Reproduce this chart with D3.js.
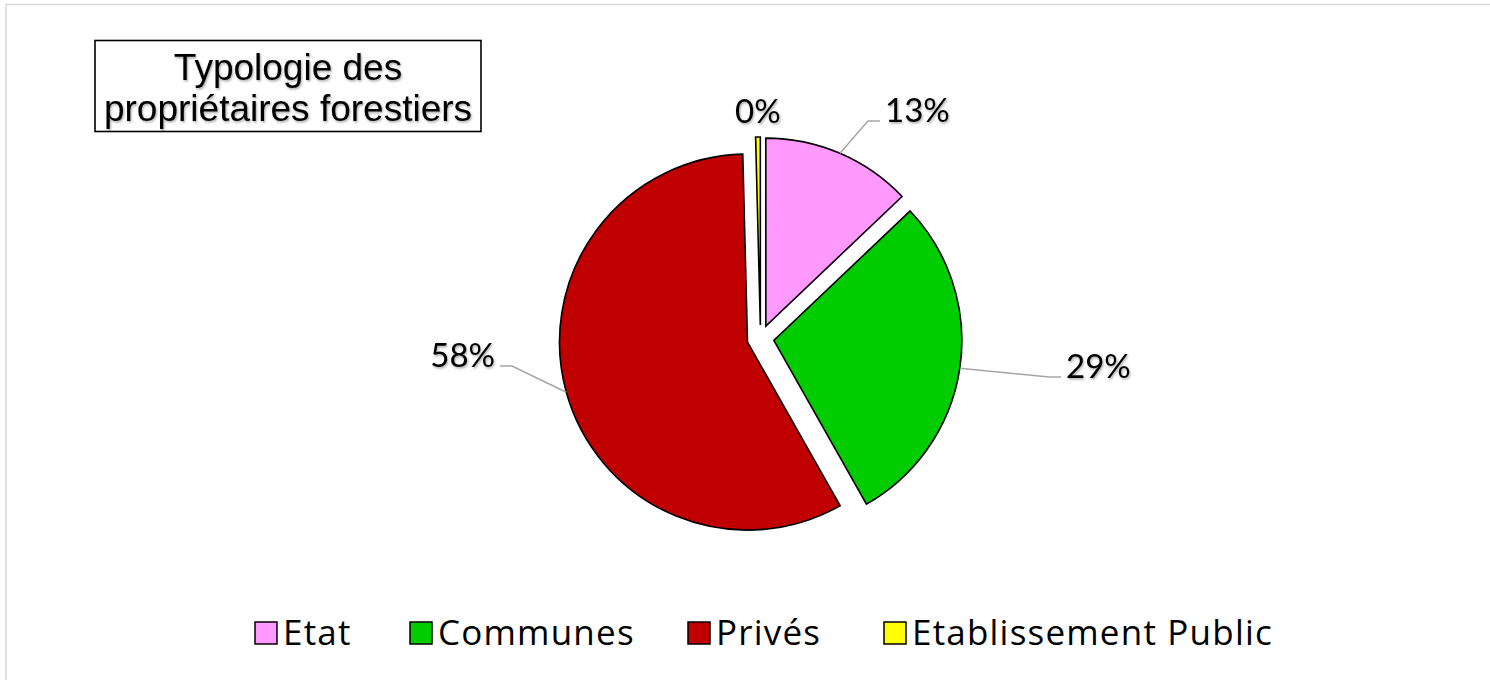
<!DOCTYPE html>
<html lang="fr">
<head>
<meta charset="utf-8">
<script src="https://cdn.jsdelivr.net/npm/d3@7"></script>
<style>
  html, body { margin: 0; padding: 0; background: #ffffff; }
  svg { display: block; }
</style>
</head>
<body>
<svg id="chart" width="1490" height="680"></svg>
<script>
// Forest ownership by owner type (shares in %)
const categories = ["Etat", "Communes", "Privés", "Etablissement Public"];
const shares = [12.9, 28.9, 57.8, 0.4];
const sliceColors = ["#FF99FF", "#00CC00", "#C00000", "#FFFF00"];
const titleLines = ["Typologie des", "propriétaires forestiers"];

// Layout
const W = 1490, H = 680;
const center = { x: 760.5, y: 338.5 };
const radius = 188;
const explode = 13.5;
// Label anchors: x, baseline y, text-anchor, whether a leader line is drawn
const labelLayout = [
  { x: 885, y: 122, anchor: "start", leader: true },
  { x: 1066, y: 378, anchor: "start", leader: true },
  { x: 495, y: 367, anchor: "end", leader: true },
  { x: 735, y: 123, anchor: "start", leader: false }
];

const svg = d3.select("#chart");

const defs = svg.append("defs");
const shadow = defs.append("filter").attr("id", "txtShadow")
  .attr("x", "-10%").attr("y", "-10%").attr("width", "130%").attr("height", "140%");
shadow.append("feDropShadow").attr("dx", 1).attr("dy", 1.5)
  .attr("stdDeviation", 1).attr("flood-color", "#000").attr("flood-opacity", 0.35);

// Chart area frame
svg.append("rect")
  .attr("x", 6).attr("y", 4.5)
  .attr("width", W + 20).attr("height", H + 20)
  .attr("fill", "#ffffff")
  .attr("stroke", "#d9d9d9").attr("stroke-width", 1.5);

// Pie
const total = d3.sum(shares);
const pie = d3.pie().sort(null).value(d => d).startAngle(0).endAngle(2 * Math.PI);
const arcs = pie(shares);
const arc = d3.arc().innerRadius(0).outerRadius(radius);
const pct = d3.format(".0%");

const g = svg.append("g").attr("transform", `translate(${center.x},${center.y})`);

function offset(d) {
  const mid = (d.startAngle + d.endAngle) / 2;
  return [explode * Math.sin(mid), -explode * Math.cos(mid)];
}

g.selectAll("path.slice")
  .data(arcs)
  .join("path")
  .attr("class", "slice")
  .attr("transform", d => { const o = offset(d); return `translate(${o[0]},${o[1]})`; })
  .attr("d", arc)
  .attr("fill", (d, i) => sliceColors[i])
  .attr("stroke", "#000")
  .attr("stroke-width", 1.6)
  .attr("stroke-linejoin", "miter");

// Leader lines from slice edge midpoint to label
arcs.forEach((d, i) => {
  const L = labelLayout[i];
  if (!L.leader) return;
  const mid = (d.startAngle + d.endAngle) / 2;
  const o = offset(d);
  const sx = center.x + o[0] + radius * Math.sin(mid);
  const sy = center.y + o[1] - radius * Math.cos(mid);
  const ex = L.anchor === "start" ? L.x - 5 : L.x + 5;
  const ey = L.y - 1;
  const kx = L.anchor === "start" ? ex - 12 : ex + 12;
  svg.append("path")
    .attr("d", d3.line()([[sx, sy], [kx, ey], [ex, ey]]))
    .attr("fill", "none")
    .attr("stroke", "#a6a6a6")
    .attr("stroke-width", 1.5);
});

// Percentage labels
svg.selectAll("text.pct")
  .data(arcs)
  .join("text")
  .attr("class", "pct")
  .attr("x", (d, i) => labelLayout[i].x)
  .attr("y", (d, i) => labelLayout[i].y)
  .attr("text-anchor", (d, i) => labelLayout[i].anchor)
  .attr("font-family", "Lato, 'Open Sans', sans-serif")
  .attr("font-size", 33)
  .attr("fill", "#000")
  .attr("filter", "url(#txtShadow)")
  .text(d => pct(d.value / total));

// Title box
const tb = svg.append("g");
tb.append("rect")
  .attr("x", 95).attr("y", 40.5)
  .attr("width", 386).attr("height", 91)
  .attr("fill", "#fff").attr("stroke", "#000").attr("stroke-width", 1.6);
tb.selectAll("text")
  .data(titleLines)
  .join("text")
  .attr("x", 288)
  .attr("y", (d, i) => 80 + i * 41)
  .attr("text-anchor", "middle")
  .attr("font-family", "'Liberation Sans', Arial, sans-serif")
  .attr("font-size", 37)
  .attr("fill", "#000")
  .attr("filter", "url(#txtShadow)")
  .text(d => d);

// Legend
const legendX = [255, 410, 688, 884];
const legend = svg.append("g");
const items = legend.selectAll("g")
  .data(categories)
  .join("g")
  .attr("transform", (d, i) => `translate(${legendX[i]},622)`);
items.append("rect")
  .attr("width", 22).attr("height", 22)
  .attr("fill", (d, i) => sliceColors[i])
  .attr("stroke", "#000").attr("stroke-width", 1.5);
items.append("text")
  .attr("x", 28).attr("y", 22.5)
  .attr("font-family", "'Open Sans', Lato, sans-serif")
  .attr("font-size", 35)
  .attr("letter-spacing", 1.2)
  .attr("fill", "#000")
  .text(d => d);
</script>
</body>
</html>
